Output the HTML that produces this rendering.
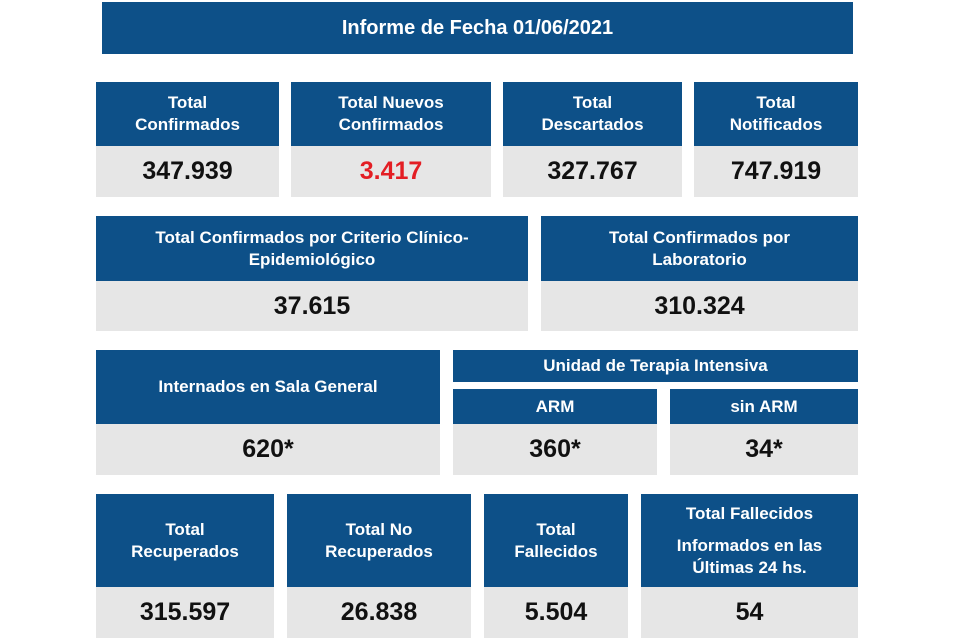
<!DOCTYPE html>
<html><head><style>
body{margin:0;width:960px;height:638px;background:#fff;position:relative;overflow:hidden;font-family:"Liberation Sans",sans-serif;font-weight:bold}
.b{position:absolute;background:#0d5088;color:#fff;display:flex;align-items:center;justify-content:center;text-align:center;font-size:17px;line-height:22px}
.g{position:absolute;background:#e6e6e6;color:#111;display:flex;align-items:center;justify-content:center;font-size:25px}
</style></head><body>
<div class="b" style="left:102px;top:2px;width:751px;height:52px;font-size:20px">Informe de Fecha 01/06/2021</div>

<div class="b" style="left:96px;top:82px;width:183px;height:64px">Total<br>Confirmados</div>
<div class="g" style="left:96px;top:146px;width:183px;height:51px">347.939</div>
<div class="b" style="left:291px;top:82px;width:200px;height:64px">Total Nuevos<br>Confirmados</div>
<div class="g" style="left:291px;top:146px;width:200px;height:51px;color:#e31e24">3.417</div>
<div class="b" style="left:503px;top:82px;width:179px;height:64px">Total<br>Descartados</div>
<div class="g" style="left:503px;top:146px;width:179px;height:51px">327.767</div>
<div class="b" style="left:694px;top:82px;width:164px;height:64px">Total<br>Notificados</div>
<div class="g" style="left:694px;top:146px;width:164px;height:51px">747.919</div>

<div class="b" style="left:96px;top:216px;width:432px;height:65px">Total Confirmados por Criterio Clínico-<br>Epidemiológico</div>
<div class="g" style="left:96px;top:281px;width:432px;height:50px">37.615</div>
<div class="b" style="left:541px;top:216px;width:317px;height:65px">Total Confirmados por<br>Laboratorio</div>
<div class="g" style="left:541px;top:281px;width:317px;height:50px">310.324</div>

<div class="b" style="left:96px;top:350px;width:344px;height:74px">Internados en Sala General</div>
<div class="g" style="left:96px;top:424px;width:344px;height:51px">620*</div>
<div class="b" style="left:453px;top:350px;width:405px;height:32px">Unidad de Terapia Intensiva</div>
<div class="b" style="left:453px;top:389px;width:204px;height:35px">ARM</div>
<div class="g" style="left:453px;top:424px;width:204px;height:51px">360*</div>
<div class="b" style="left:670px;top:389px;width:188px;height:35px">sin ARM</div>
<div class="g" style="left:670px;top:424px;width:188px;height:51px">34*</div>

<div class="b" style="left:96px;top:494px;width:178px;height:93px">Total<br>Recuperados</div>
<div class="g" style="left:96px;top:587px;width:178px;height:51px">315.597</div>
<div class="b" style="left:287px;top:494px;width:184px;height:93px">Total No<br>Recuperados</div>
<div class="g" style="left:287px;top:587px;width:184px;height:51px">26.838</div>
<div class="b" style="left:484px;top:494px;width:144px;height:93px">Total<br>Fallecidos</div>
<div class="g" style="left:484px;top:587px;width:144px;height:51px">5.504</div>
<div class="b" style="left:641px;top:494px;width:217px;height:93px"><div>Total Fallecidos<div style="height:10px"></div>Informados en las<br>Últimas 24 hs.</div></div>
<div class="g" style="left:641px;top:587px;width:217px;height:51px">54</div>
</body></html>
